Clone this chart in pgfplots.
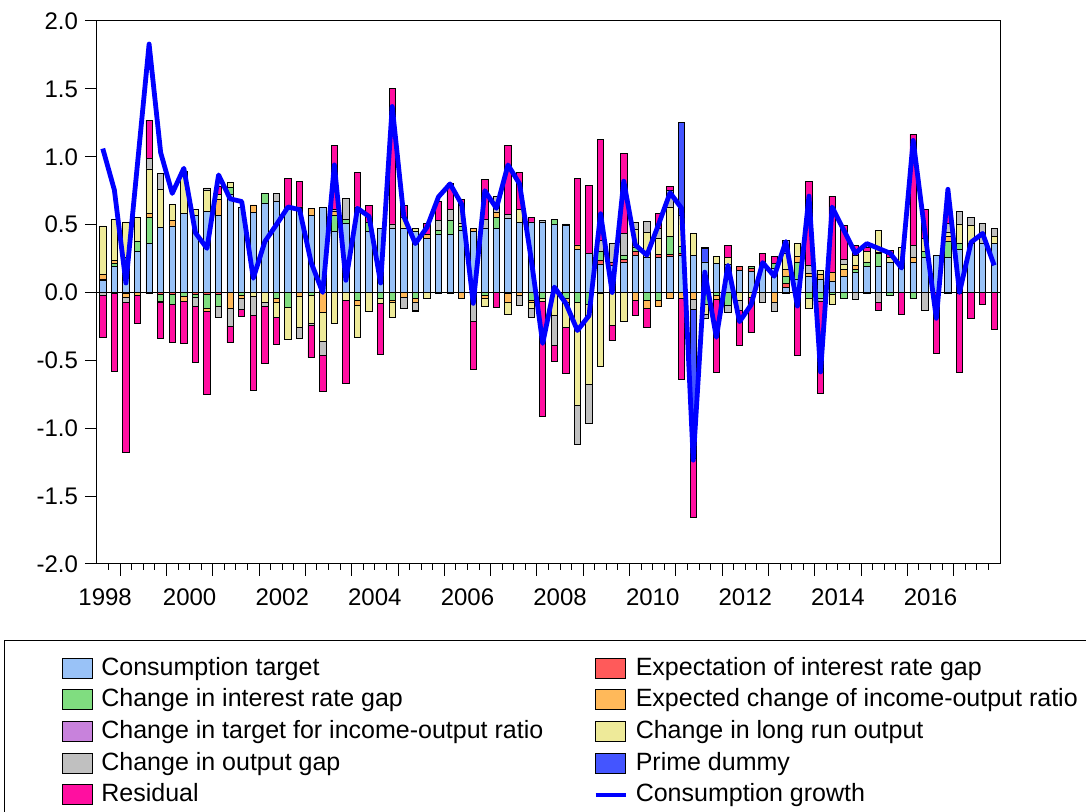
\documentclass[border=0pt]{standalone}
\usepackage{fontspec}
\setmainfont{Liberation Sans}
\usepackage{pgfplots}
\usepackage{pgfplotstable}
\pgfplotsset{compat=1.18}
\definecolor{cct}{RGB}{153,194,247}
\definecolor{ceir}{RGB}{255,90,90}
\definecolor{ccir}{RGB}{128,221,128}
\definecolor{cecio}{RGB}{255,185,90}
\definecolor{ccto}{RGB}{200,130,220}
\definecolor{clro}{RGB}{238,234,153}
\definecolor{cog}{RGB}{192,192,192}
\definecolor{cpd}{RGB}{68,85,255}
\definecolor{cres}{RGB}{255,15,160}
\pgfplotstableread{
q ct eir cir ecio cto lro og pd res cg
0 0.09 0.01 0 0.03 0 0.36 -0.02 0 -0.31 1.06
1 0.19 -0.01 0.025 0.02 0 0.30 0 0 -0.57 0.755
2 0.22 -0.01 0.04 -0.025 0 0.26 -0.04 0 -1.10 0.07
3 0.30 0 0.08 -0.025 0 0.17 0 0 -0.20 0.95
4 0.36 -0.01 0.19 0.03 0 0.33 0.08 0 0.28 1.83
5 0.48 -0.015 -0.05 -0.01 0 0.28 0.12 0 -0.265 1.03
6 0.49 -0.015 -0.07 0.04 0 0.12 0 0 -0.28 0.73
7 0.58 0 -0.03 -0.035 0 0.31 0 0 -0.31 0.915
8 0.57 -0.015 -0.02 0 0 0.04 -0.07 0 -0.41 0.44
9 0.60 -0.015 -0.10 -0.025 0 0.155 0.015 0 -0.61 0.325
10 0.57 -0.015 -0.09 0.115 0 0.04 -0.08 0 0.06 0.866
11 0.72 0 0.055 -0.115 0 0.035 -0.135 0 -0.12 0.69
12 0.63 0 -0.02 -0.025 0 0 -0.08 0 -0.05 0.67
13 0.59 0 0 0.055 0 -0.03 -0.14 0 -0.55 0.105
14 0.66 0 0.07 0 0 -0.07 -0.03 0 -0.42 0.375
15 0.67 0 -0.045 -0.025 0 -0.11 0.06 0 -0.20 0.50
16 0.63 0 -0.11 0 0 -0.235 0 0 0.21 0.63
17 0.62 0 0.01 -0.03 0 -0.23 -0.075 0 0.19 0.61
18 0.565 0 -0.02 0.055 0 -0.205 -0.015 0 -0.24 0.22
19 0.625 0 0 -0.15 0 -0.21 -0.105 0 -0.26 0.0
20 0.45 0 0.115 0.035 0 -0.225 0.01 0 0.47 0.94
21 0.51 0 0.03 0 0 -0.06 0.155 0 -0.61 0.09
22 0.63 0 -0.06 -0.035 0 -0.235 0 0 0.255 0.62
23 0.45 0 0.07 0 0 -0.14 0 0 0.12 0.56
24 0.475 0 -0.045 0 0 -0.035 0 0 -0.375 0.07
25 0.47 0 -0.055 -0.015 0 -0.11 0.035 0 1.0 1.37
26 0.47 0 0 -0.035 0 0.085 -0.08 0 0.085 0.56
27 0.45 0 -0.04 -0.03 0 0.025 -0.06 0 -0.01 0.36
28 0.40 0 0 0.025 0 -0.04 0 0 0.085 0.48
29 0.43 0 0.03 -0.01 0 0 0.07 0 0.14 0.705
30 0.43 0 0.10 -0.01 0 0 0.085 0 0.19 0.80
31 0.46 0 0.03 -0.04 0 0.02 0.13 0 0.045 0.65
32 0.45 0 0 0.025 0 0 -0.21 0 -0.36 -0.08
33 0.47 0 -0.025 -0.02 0 -0.055 0.065 0 0.295 0.75
34 0.47 0 0.08 0.04 0 0 0.12 0 -0.11 0.62
35 0.545 -0.01 0 -0.06 0 -0.09 0.03 0 0.51 0.94
36 0.515 0 0 -0.02 0 0.10 -0.075 0 0.27 0.80
37 0.52 0 -0.06 -0.01 0 -0.045 -0.065 0 0.035 0.25
38 0.52 0 -0.04 0 0 -0.025 0.01 0 -0.85 -0.375
39 0.50 0 0.035 0 0 -0.17 -0.22 0 -0.12 0.04
40 0.495 0 -0.04 -0.035 0 -0.18 0.01 0 -0.34 -0.08
41 0.315 0 -0.07 0.035 0 -0.76 -0.29 0 0.49 -0.28
42 0.29 0 -0.09 0 0 -0.585 -0.29 0 0.50 -0.17
43 0.21 0.025 0.065 -0.01 0 -0.535 0.085 0 0.745 0.58
44 0.20 0.025 0 0 0 -0.24 0.135 0 -0.115 0.0
45 0.225 0.02 0.025 0 0 -0.21 0.165 0 0.59 0.82
46 0.275 0.025 0.035 -0.055 0 0.13 0.05 0 -0.115 0.35
47 0.26 0 -0.06 -0.055 0 0.18 0.085 0 -0.14 0.275
48 0.26 0.02 -0.06 -0.04 0 0.12 0.07 0 0.11 0.50
49 0.264 0.016 0.13 -0.04 0 0.22 0.125 0 0.025 0.735
50 0.27 0.02 0.05 -0.04 0 0.23 0 0.68 -0.60 0.62
51 0.275 0 0 -0.05 0 0.16 -0.075 -1.10 -0.43 -1.235
52 0.225 0 -0.09 0 0 -0.075 -0.025 0.10 0.01 0.15
53 0.215 0 -0.025 -0.025 0 0.05 0 0 -0.535 -0.33
54 0.21 0 -0.095 0 0 0.05 -0.05 0 0.085 0.20
55 0.165 0.025 0 0 0 -0.06 -0.07 0 -0.26 -0.215
56 0.155 0.02 0.015 0 0 -0.035 0 0 -0.26 -0.09
57 0.215 0 0 0 0 0 -0.075 0 0.075 0.22
58 0.175 0 0.04 -0.07 0 0 -0.07 0 0.05 0.12
59 0.04 0.025 0.055 0.05 0 0.12 0.095 0 -0.01 0.375
60 0.10 0 0.12 0.045 0 0.095 0 0 -0.46 -0.10
61 0.115 0 -0.04 0.025 0 -0.075 0.06 0 0.62 0.71
62 0.10 0 -0.04 0.035 0 0.025 -0.025 0 -0.675 -0.585
63 0.085 0 -0.015 0.06 0 -0.07 0 0 0.565 0.63
64 0.12 0 -0.04 0.05 0 0.035 0.04 0 0.25 0.46
65 0.15 0 0.02 0.03 0 0.075 -0.05 0 0.07 0.29
66 0.19 0 0.035 0 0 0.075 -0.01 0 0.03 0.36
67 0.195 0 0.09 0.01 0 0.16 -0.07 0 -0.06 0.325
68 0.22 0 -0.02 0 0 0.04 0 0 0.05 0.29
69 0.20 0 0 0 0 0.135 0 0 -0.16 0.18
70 0.22 0 -0.045 0.04 0 0 0.085 0 0.82 1.12
71 0.26 0 0.045 0 0 0.09 -0.135 0 0.22 0.45
72 0.27 0 0 0 0 0 0 0 -0.45 -0.19
73 0.255 -0.01 0.12 0.035 0 0.03 0.07 0 0.11 0.76
74 0.315 0 0.05 -0.01 0 0.135 0.095 0 -0.58 0.0
75 0.365 0 0 0 0 0.13 0.055 0 -0.19 0.37
76 0.36 0 0 0 0 0 0.15 0 -0.09 0.435
77 0.36 0 0 0 0 0.05 0.065 0 -0.27 0.20
}\datatable
\pgfplotsset{
  frame/.style={at={(0,0)}, anchor=south west,
    width=451.5pt, height=271.5pt, scale only axis,
    xmin=-0.5, xmax=77.5, ymin=-2, ymax=2},
  barstyle/.style={ybar stacked, bar width=0.55},
}
\begin{document}
\begin{tikzpicture}
\useasboundingbox (-48.5pt,-124pt) rectangle (494.5pt,282pt);
\begin{axis}[frame, barstyle,
  ytick={-2,-1.5,...,2},
  yticklabel style={/pgf/number format/fixed, /pgf/number format/fixed zerofill, /pgf/number format/precision=1, /pgf/number format/assume math mode=true},
  xtick={1.5,5.5,...,73.5},
  xticklabels={},
  minor xtick={0.5,1.5,...,76.5},
  extra x ticks={0.2,7.5,15.5,23.5,31.5,39.5,47.5,55.5,63.5,71.5},
  extra x tick labels={1998,2000,2002,2004,2006,2008,2010,2012,2014,2016},
  extra x tick style={major tick length=0pt},
  xticklabel style={yshift=-9pt},
  xtick pos=bottom, ytick pos=left, tick align=outside,
  major tick length=6pt, minor tick length=3pt,
  tick style={black, line width=0.5pt},
  tick label style={font=\fontsize{12}{14}\selectfont},
  axis line style={line width=0.5pt},
  legend columns=2,
  legend cell align=left,
  legend image code/.code={\draw[#1, draw=black, line width=0.5pt] (0pt,-5pt) rectangle (15pt,5pt);},
  legend style={at={(axis description cs:-0.0388,-0.169)}, anchor=north west, draw=none, fill=none, inner sep=0pt,
    font=\fontsize{12.5}{15}\selectfont, row sep=3.85pt,
    nodes={inner sep=0pt, text height=9.5pt, text depth=2.5pt},
    /tikz/every odd column/.append style={column sep=4pt},
    /tikz/every even column/.append style={column sep=25pt}},
]
\addplot[fill=cct, draw=black, line width=0.4pt] table[x=q, y expr={max(\thisrow{ct},0)}] {\datatable};
\addlegendentry{Consumption target}
\addplot[fill=ceir, draw=black, line width=0.4pt] table[x=q, y expr={max(\thisrow{eir},0)}] {\datatable};
\addlegendentry{Expectation of interest rate gap}
\addplot[fill=ccir, draw=black, line width=0.4pt] table[x=q, y expr={max(\thisrow{cir},0)}] {\datatable};
\addlegendentry{Change in interest rate gap}
\addplot[fill=cecio, draw=black, line width=0.4pt] table[x=q, y expr={max(\thisrow{ecio},0)}] {\datatable};
\addlegendentry{Expected change of income-output ratio}
\addplot[fill=ccto, draw=black, line width=0.4pt] table[x=q, y expr={max(\thisrow{cto},0)}] {\datatable};
\addlegendentry{Change in target for income-output ratio}
\addplot[fill=clro, draw=black, line width=0.4pt] table[x=q, y expr={max(\thisrow{lro},0)}] {\datatable};
\addlegendentry{Change in long run output}
\addplot[fill=cog, draw=black, line width=0.4pt] table[x=q, y expr={max(\thisrow{og},0)}] {\datatable};
\addlegendentry{Change in output gap}
\addplot[fill=cpd, draw=black, line width=0.4pt] table[x=q, y expr={max(\thisrow{pd},0)}] {\datatable};
\addlegendentry{Prime dummy}
\addplot[fill=cres, draw=black, line width=0.4pt] table[x=q, y expr={max(\thisrow{res},0)}] {\datatable};
\addlegendentry{Residual}
\addlegendimage{legend image code/.code={\draw[blue, line width=2.25pt] (0pt,0pt) -- (15pt,0pt);}}
\addlegendentry{Consumption growth}
\end{axis}
\begin{axis}[frame, barstyle, hide axis]
\addplot[fill=cct, draw=black, line width=0.4pt] table[x=q, y expr={min(\thisrow{ct},0)}] {\datatable};
\addplot[fill=ceir, draw=black, line width=0.4pt] table[x=q, y expr={min(\thisrow{eir},0)}] {\datatable};
\addplot[fill=ccir, draw=black, line width=0.4pt] table[x=q, y expr={min(\thisrow{cir},0)}] {\datatable};
\addplot[fill=cecio, draw=black, line width=0.4pt] table[x=q, y expr={min(\thisrow{ecio},0)}] {\datatable};
\addplot[fill=ccto, draw=black, line width=0.4pt] table[x=q, y expr={min(\thisrow{cto},0)}] {\datatable};
\addplot[fill=clro, draw=black, line width=0.4pt] table[x=q, y expr={min(\thisrow{lro},0)}] {\datatable};
\addplot[fill=cog, draw=black, line width=0.4pt] table[x=q, y expr={min(\thisrow{og},0)}] {\datatable};
\addplot[fill=cpd, draw=black, line width=0.4pt] table[x=q, y expr={min(\thisrow{pd},0)}] {\datatable};
\addplot[fill=cres, draw=black, line width=0.4pt] table[x=q, y expr={min(\thisrow{res},0)}] {\datatable};
\end{axis}
\begin{axis}[frame, hide axis]
\draw[black, line width=0.6pt] (axis cs:-0.5,0) -- (axis cs:77.5,0);
\addplot[blue, line width=2.4pt, line join=round, mark=none] table[x=q, y=cg] {\datatable};
\end{axis}
\draw[black, line width=0.5pt] (-46pt,-38.5pt) rectangle (500pt,-130pt);
\end{tikzpicture}
\end{document}
